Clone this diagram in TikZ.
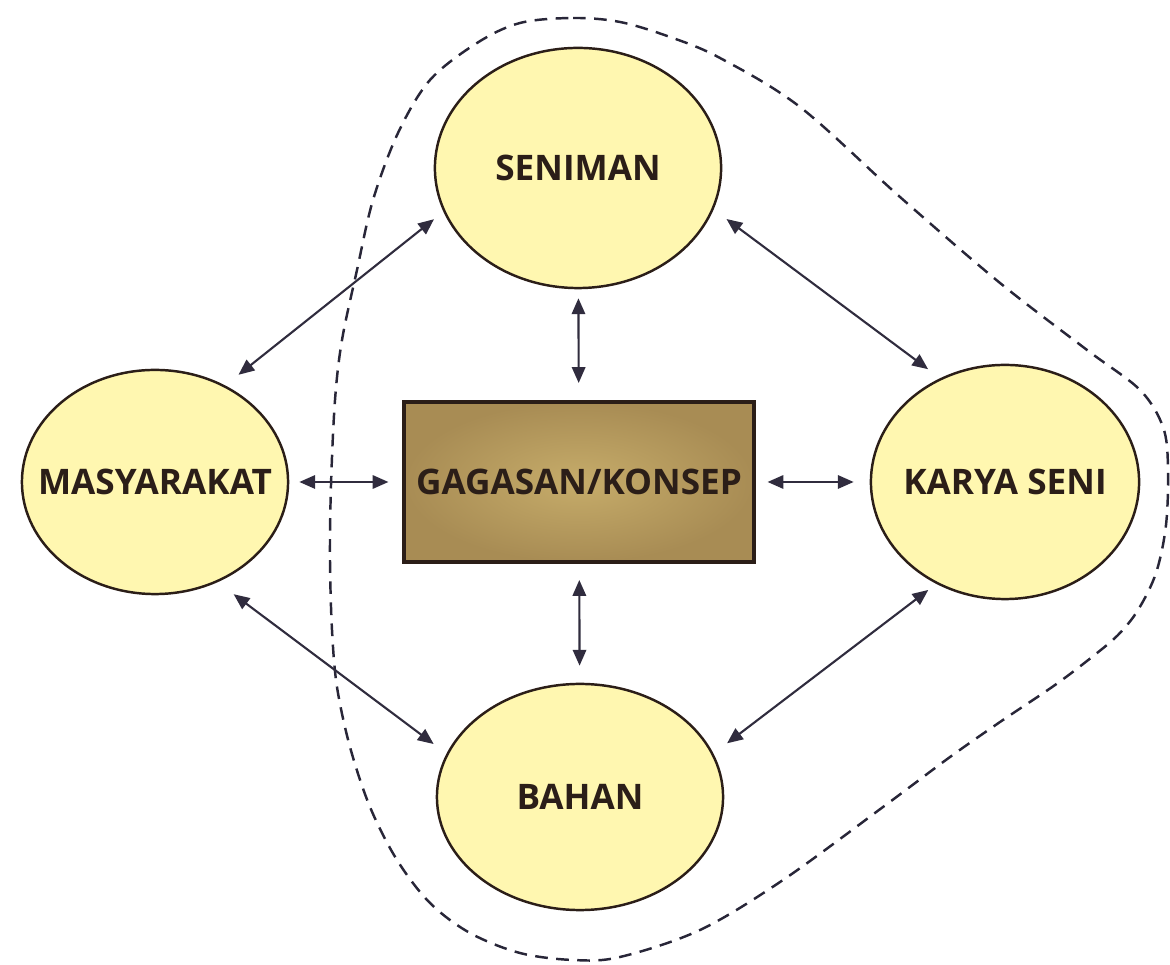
\documentclass[tikz,border=0pt]{standalone}
\usepackage{fontspec}
\setmainfont{Open Sans}
\usetikzlibrary{arrows.meta,shapes.geometric}
\definecolor{ellfill}{RGB}{255,247,176}
\definecolor{ink}{RGB}{43,30,24}
\definecolor{arrcol}{RGB}{48,44,62}
\definecolor{dashcol}{RGB}{40,38,56}
\definecolor{boxin}{RGB}{198,172,106}
\definecolor{boxout}{RGB}{168,140,84}
\begin{document}
\begin{tikzpicture}[x=0.01cm,y=-0.01cm,
  ell/.style={ellipse, draw=ink, line width=0.7pt, fill=ellfill, inner sep=0pt,
    font=\bfseries\fontsize{10}{12}\selectfont, text=ink},
  cbox/.style={rectangle, draw=ink, line width=1.1pt, inner color=boxin, outer color=boxout,
    minimum width=3.49cm, minimum height=1.6cm, inner sep=0pt,
    font=\bfseries\fontsize{10}{12}\selectfont, text=ink},
  link/.style={{Triangle[length=4.5pt,width=3.8pt]}-{Triangle[length=4.5pt,width=3.8pt]},
    draw=arrcol, line width=0.6pt},
  blob/.style={draw=dashcol, dash pattern=on 3.6pt off 2.4pt, line width=0.7pt}]
\useasboundingbox (0,0) rectangle (1170,965);

% dashed boundary
\draw[blob] plot[smooth cycle, tension=0.55] coordinates {
  (520,23) (573,18) (620,22) (670,37) (720,58) (800,107) (900,197) (1000,283)
  (1087,350) (1140,390) (1163,427) (1168,467) (1166,525) (1156,573) (1138,610)
  (1118,635) (1092,657) (1055,685) (1000,722) (950,757) (883,807) (783,880)
  (700,930) (620,957) (573,960)
  (520,953) (470,933) (430,903) (397,860) (370,807) (350,747) (337,687)
  (332,630) (330,560) (331,485) (335,400) (342,340) (357,270) (373,200)
  (398,133) (430,80) (477,43)};

% nodes
\node[ell, minimum width=2.86cm, minimum height=2.40cm] (s) at (578,168) {\makebox[0pt]{SENIMAN}};
\node[ell, minimum width=2.66cm, minimum height=2.24cm] (m) at (155,482) {\makebox[0pt]{MASYARAKAT}};
\node[ell, minimum width=2.68cm, minimum height=2.34cm] (k) at (1005,482) {\makebox[0pt]{KARYA SENI}};
\node[ell, minimum width=2.86cm, minimum height=2.26cm] (b) at (580,797) {\makebox[0pt]{BAHAN}};
\node[cbox] (g) at (579,482) {GAGASAN/KONSEP};

% connectors
\draw[link, shorten <=0.17cm, shorten >=0.12cm] (m.54) -- (s.198);
\draw[link, shorten <=0.16cm, shorten >=0.15cm] (s.343) -- (k.122);
\draw[link, shorten <=0.10cm, shorten >=0.17cm] (k.236) -- (b.18);
\draw[link, shorten <=0.20cm, shorten >=0.16cm] (m.302) -- (b.162);
\draw[link, shorten <=0.09cm, shorten >=0.17cm] (s) -- (g);
\draw[link, shorten <=0.16cm, shorten >=0.17cm] (g) -- (b);
\draw[link, shorten <=0.10cm, shorten >=0.14cm] (m) -- (g);
\draw[link, shorten <=0.12cm, shorten >=0.16cm] (g) -- (k);
\end{tikzpicture}
\end{document}
